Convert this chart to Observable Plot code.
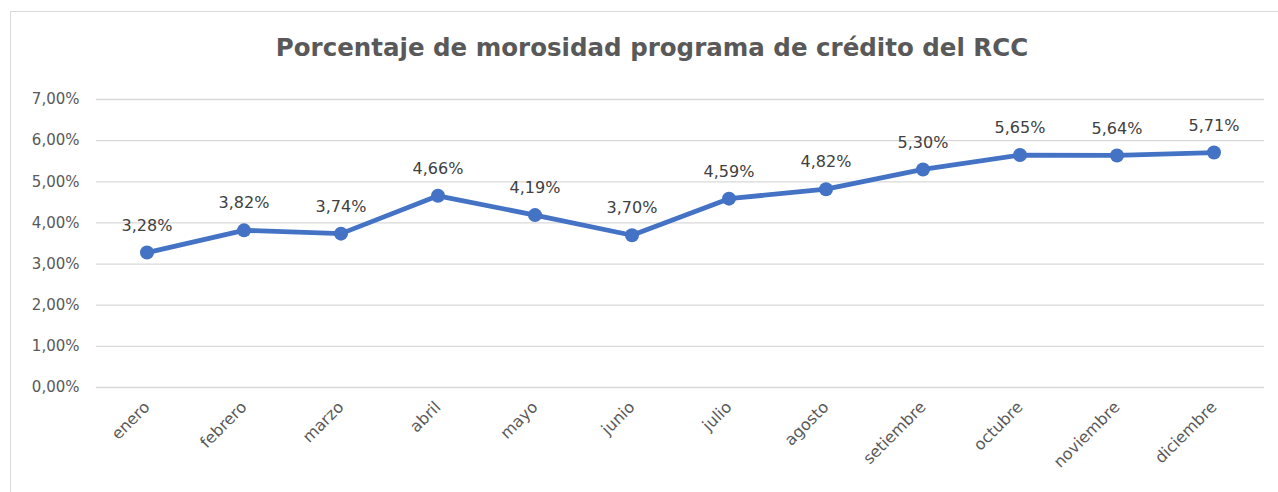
<!DOCTYPE html>
<html><head><meta charset="utf-8">
<script src="https://cdn.jsdelivr.net/npm/d3@7"></script>
<script src="https://cdn.jsdelivr.net/npm/@observablehq/plot@0.6"></script>
<style>
html,body{margin:0;padding:0;background:#fff;overflow:hidden;width:1278px;height:492px;}
#frame{position:absolute;left:10px;top:11px;width:1290px;height:500px;border:1.5px solid #d9d9d9;box-sizing:border-box;}
#title{position:absolute;left:10px;width:1284px;top:33px;text-align:center;font-family:"DejaVu Sans",sans-serif;font-weight:bold;font-size:24.5px;color:#595959;}
#chart{position:absolute;left:0;top:0;}
</style></head>
<body>
<div id="frame"></div>
<div id="title">Porcentaje de morosidad programa de crédito del RCC</div>
<div id="chart"></div>
<script>
const months = ["enero","febrero","marzo","abril","mayo","junio","julio","agosto","setiembre","octubre","noviembre","diciembre"];
const values = [3.28,3.82,3.74,4.66,4.19,3.70,4.59,4.82,5.30,5.65,5.64,5.71];
const yTicks = [0,1,2,3,4,5,6,7];

const data = months.map((m,i)=>({month:m, value:values[i]}));
const fmt = d3.formatLocale({decimal:",",thousands:".",grouping:[3],currency:["","€"]}).format(".2f");
const pct = v => fmt(v) + "%";

const plot = Plot.plot({
  width:1278, height:492,
  marginTop:99, marginBottom:105, marginLeft:96, marginRight:14,
  style:{fontFamily:"DejaVu Sans, sans-serif", fontSize:"15px", color:"#595959", background:"transparent"},
  x:{type:"band", domain:months, padding:0, label:null},
  y:{domain:[0,7], label:null},
  marks:[
    Plot.gridY(yTicks,{stroke:"#d9d9d9", strokeOpacity:1, strokeWidth:1.3}),
    Plot.axisY(yTicks,{tickSize:0, tickPadding:17, tickFormat:pct, fontSize:15, fill:"#595959"}),
    Plot.axisX({tickSize:0, tickPadding:17, tickRotate:-45, fontSize:16, fill:"#595959"}),
    Plot.line(data,{x:"month", y:"value", stroke:"#4472C4", strokeWidth:4.8, strokeLinejoin:"round"}),
    Plot.dot(data,{x:"month", y:"value", r:7, fill:"#4472C4", stroke:"none"}),
    Plot.text(data,{x:"month", y:"value", text:d=>pct(d.value), dy:-27, fontSize:16, fill:"#404040"})
  ]
});
document.getElementById("chart").appendChild(plot);
</script>
</body></html>
